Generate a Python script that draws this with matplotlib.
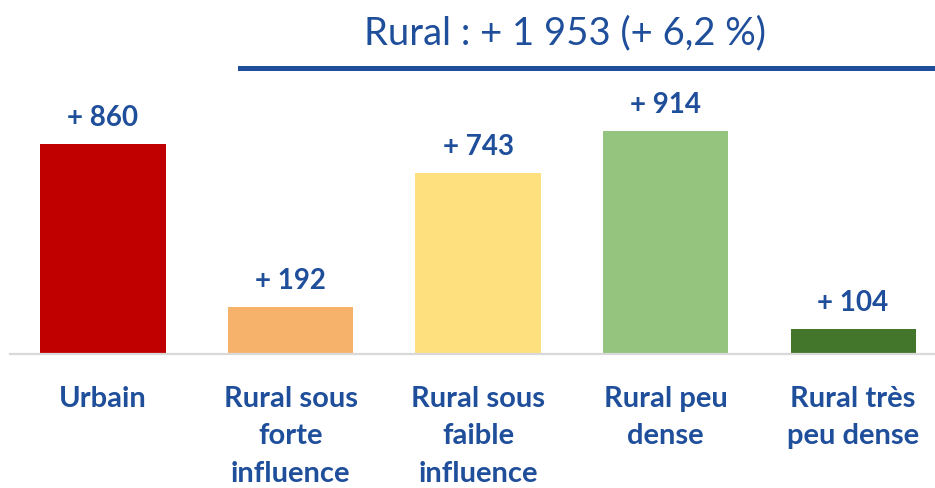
import matplotlib
matplotlib.use("Agg")
import matplotlib.pyplot as plt
from matplotlib.lines import Line2D

categories = ["Urbain", "Rural sous\nforte\ninfluence", "Rural sous\nfaible\ninfluence",
              "Rural peu\ndense", "Rural très\npeu dense"]
values = [860, 192, 743, 914, 104]
value_labels = ["+ 860", "+ 192", "+ 743", "+ 914", "+ 104"]
colors = ["#C00000", "#F6B26B", "#FFE07F", "#95C47E", "#43762A"]
title = "Rural : + 1 953 (+ 6,2 %)"

BLUE = "#1F4E9B"
W, H = 935, 489
fig = plt.figure(figsize=(W / 100, H / 100), dpi=100)
plt.rcParams['font.family'] = ['Lato', 'DejaVu Sans']

left, right = 10, 935
bottom_px, top_px = 355, 100
ax = fig.add_axes([left / W, (H - bottom_px) / H, (right - left) / W, (bottom_px - top_px) / H])
x = list(range(len(categories)))
ax.bar(x, values, width=0.667, color=colors, zorder=2)
ax.set_xlim(-0.496, 4.437)
ax.set_ylim(0, 914 * 255 / 223)
for s in ["top", "right", "left"]:
    ax.spines[s].set_visible(False)
ax.spines["bottom"].set_color("#D9D9D9")
ax.spines["bottom"].set_linewidth(1.6)
ax.set_yticks([])
ax.set_xticks(x)
ax.set_xticklabels(categories, fontsize=21, fontweight="bold", color=BLUE, linespacing=1.53)
ax.tick_params(axis="x", length=0, pad=22.5)

for xi, v, lab in zip(x, values, value_labels):
    ax.annotate(lab, (xi, v), xytext=(0, 13.5), textcoords="offset points",
                ha="center", va="baseline", fontsize=20, fontweight="bold", color=BLUE)

fig.text(565 / W, 1 - 33 / H, title, ha="center", va="center", fontsize=27.5, color=BLUE)
fig.add_artist(Line2D([240 / W, 932 / W], [1 - 68.5 / H, 1 - 68.5 / H],
                      transform=fig.transFigure, color="#1F4E9B", linewidth=3.6))

fig.savefig("out.png", dpi=100)
